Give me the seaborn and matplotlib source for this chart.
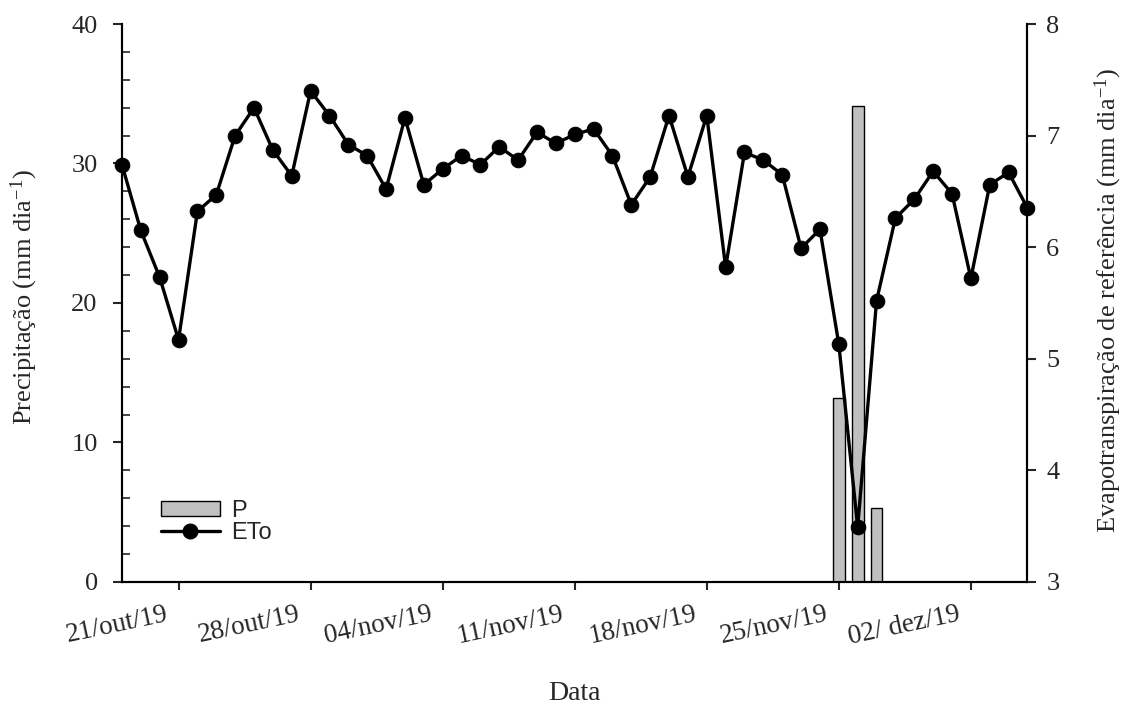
import numpy as np
import pandas as pd
import matplotlib
matplotlib.use('Agg')
import matplotlib.pyplot as plt
from matplotlib.ticker import MultipleLocator
from matplotlib.patches import Patch
from matplotlib.lines import Line2D
import seaborn as sns

# daily data, 18/out/19 .. 05/dez/19
dates = pd.date_range('2019-10-18', '2019-12-05', freq='D')
eto = [6.74, 6.15, 5.73, 5.17, 6.32, 6.47, 7.00, 7.25, 6.87, 6.64,
       7.40, 7.18, 6.92, 6.82, 6.52, 7.16, 6.56, 6.70, 6.82, 6.74,
       6.90, 6.78, 7.03, 6.93, 7.01, 7.06, 6.82, 6.38, 6.63, 7.18,
       6.63, 7.18, 5.82, 6.85, 6.78, 6.65, 5.99, 6.16, 5.13, 3.49,
       5.52, 6.26, 6.43, 6.68, 6.48, 5.72, 6.56, 6.67, 6.35]

# rainy days only
p_dates = pd.to_datetime(['2019-11-25', '2019-11-26', '2019-11-27'])
p_vals = [13.2, 34.1, 5.3]

tick_dates = pd.to_datetime(['2019-10-21', '2019-10-28', '2019-11-04', '2019-11-11',
                             '2019-11-18', '2019-11-25', '2019-12-02'])
tick_labels = ['21/out/19', '28/out/19', '04/nov/19', '11/nov/19',
               '18/nov/19', '25/nov/19', '02/ dez/19']

sns.set_style('ticks')
plt.rcParams['font.family'] = ['Liberation Serif', 'DejaVu Serif']
plt.rcParams['mathtext.fontset'] = 'custom'
plt.rcParams['mathtext.rm'] = 'Liberation Serif'
plt.rcParams['mathtext.it'] = 'Liberation Serif:italic'

fig = plt.figure(figsize=(11.26, 7.08), dpi=100)
ax = fig.add_axes([0.1083, 0.178, 0.8042, 0.7881])

ax.bar(p_dates, p_vals, width=0.63, color='#c0c0c0', edgecolor='black', linewidth=1, zorder=2)

ax2 = ax.twinx()
df = pd.DataFrame({'Data': dates, 'ETo': eto})
sns.lineplot(data=df, x='Data', y='ETo', ax=ax2, color='black', linewidth=2.4,
             marker='o', markersize=10.5, markeredgecolor='black', clip_on=False)

ax.set_xlim(dates[0], dates[-1])
ax.set_ylim(0, 40)
ax2.set_ylim(3, 8)
ax.set_yticks([0, 10, 20, 30, 40])
ax2.set_yticks([3, 4, 5, 6, 7, 8])
ax.yaxis.set_minor_locator(MultipleLocator(2))

# tick marks on the dates, labels a bit to the left of them (as in the original)
ax.set_xticks(tick_dates)
ax.set_xticklabels([''] * len(tick_dates))
ax.set_xticks(tick_dates - pd.Timedelta(hours=17), minor=True)
ax.set_xticklabels(tick_labels, minor=True, rotation=12, ha='right', rotation_mode='anchor')

ax.tick_params(axis='x', which='major', direction='out', length=5.5, width=1.5)
ax.tick_params(axis='x', which='minor', length=0, pad=14, labelsize=19.5)
ax.tick_params(axis='y', which='major', direction='out', length=6.5, width=1.5,
               pad=11, labelsize=19)
ax.tick_params(axis='y', which='minor', direction='in', length=6, width=1.2)
ax2.tick_params(axis='y', which='major', direction='out', length=6.5, width=1.5,
                pad=7, labelsize=19)

for a in (ax, ax2):
    for s in a.spines.values():
        s.set_linewidth(1.5)
        s.set_color('black')
    a.spines['top'].set_visible(False)
    a.grid(False)

ax.set_xlabel('Data', fontsize=20)
ax.xaxis.set_label_coords(0.5, -0.178)
ax.set_ylabel('Precipitação (mm dia$^{-1}$)', fontsize=19)
ax.yaxis.set_label_coords(-0.09, 0.51)
ax2.set_ylabel('Evapotranspiração de referência (mm dia$^{-1}$)', fontsize=19)
ax2.yaxis.set_label_coords(1.072, 0.505)

handles = [Patch(facecolor='#c0c0c0', edgecolor='black', linewidth=1),
           Line2D([], [], color='black', linewidth=2.4, marker='o', markersize=10.5)]
ax2.legend(handles, ['P', 'ETo'], loc='upper left', bbox_to_anchor=(0.0427, 0.147),
           frameon=False, prop={'family': 'Liberation Sans', 'size': 17},
           handlelength=2.5, handleheight=0.6, handletextpad=0.5, labelspacing=0.0,
           borderaxespad=0, borderpad=0)

plt.savefig('out.png', dpi=100)
